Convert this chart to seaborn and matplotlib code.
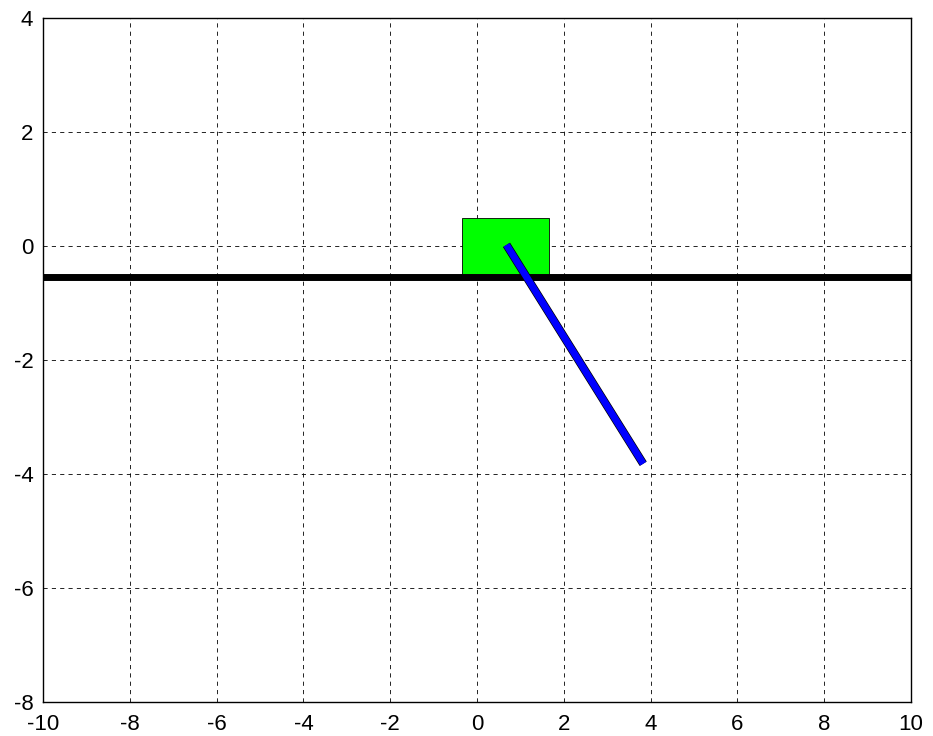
import numpy as np
import pandas as pd
import seaborn as sns
import matplotlib.pyplot as plt
import matplotlib.patheffects as pe
from matplotlib.patches import Rectangle

# Cart / pendulum state
cart_x = [0.66]          # cart centre
cart_w = [2.0]
cart_h = [1.0]
cart_y = [0.0]
ground_x = [-10, 10]
ground_y = [-0.55, -0.55]
pend_x = [0.68, 3.83]    # pivot -> tip
pend_y = [0.02, -3.82]

xticks = [-10, -8, -6, -4, -2, 0, 2, 4, 6, 8, 10]
yticks = [-8, -6, -4, -2, 0, 2, 4]

sns.set_style('white')
plt.rcParams['font.family'] = ['Liberation Sans', 'DejaVu Sans']
plt.rcParams['axes.unicode_minus'] = False

fig = plt.figure(figsize=(9.33, 7.36), dpi=100)
ax = fig.add_axes([0.0461, 0.0462, 0.9303, 0.9293])

# cart
ax.add_patch(Rectangle((cart_x[0] - cart_w[0] / 2, cart_y[0] - cart_h[0] / 2),
                       cart_w[0], cart_h[0], facecolor='#00ff00',
                       edgecolor='black', linewidth=0.6, zorder=2))

# track
ground = pd.DataFrame({'x': ground_x, 'y': ground_y})
sns.lineplot(data=ground, x='x', y='y', color='black', linewidth=5,
             solid_capstyle='butt', ax=ax, zorder=3)

# pendulum rod
pend = pd.DataFrame({'x': pend_x, 'y': pend_y})
sns.lineplot(data=pend, x='x', y='y', sort=False, color='#0000ff', linewidth=5.0,
             solid_capstyle='butt', ax=ax, zorder=4,
             path_effects=[pe.Stroke(linewidth=6.0, foreground='black'), pe.Normal()])

ax.set_xlim(-10, 10)
ax.set_ylim(-8, 4)
ax.set_xticks(xticks)
ax.set_yticks(yticks)
ax.set_xlabel('')
ax.set_ylabel('')
ax.grid(True, color='black', linestyle=(0, (5, 5)), linewidth=0.6)
ax.set_axisbelow(True)
ax.tick_params(direction='in', length=4, width=0.8, labelsize=16, colors='black')
ax.tick_params(axis='x', pad=9)
ax.tick_params(axis='y', pad=7)
for s in ax.spines.values():
    s.set_visible(True)
    s.set_color('black')
    s.set_linewidth(1.0)

plt.savefig('out.png', dpi=100)
plt.close()
